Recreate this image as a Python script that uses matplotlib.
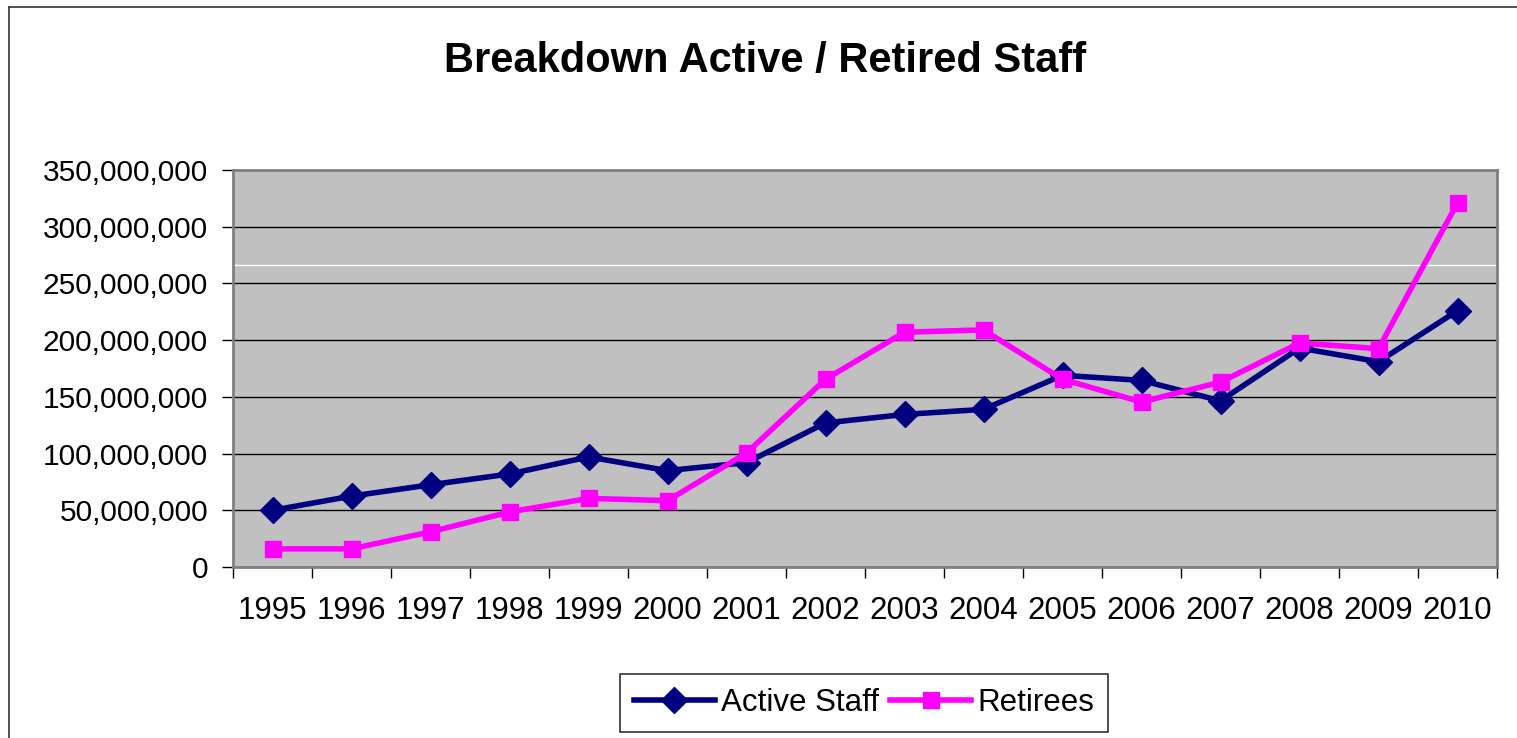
import numpy as np
import matplotlib
matplotlib.use('Agg')
import matplotlib.pyplot as plt
from matplotlib.lines import Line2D
from matplotlib.ticker import FuncFormatter

# Data
years = ['1995', '1996', '1997', '1998', '1999', '2000', '2001', '2002',
         '2003', '2004', '2005', '2006', '2007', '2008', '2009', '2010']
active_staff = [50.0, 62.5, 72.5, 82.0, 97.0, 85.0, 92.0, 127.0,
                134.5, 139.0, 169.0, 164.5, 146.5, 193.0, 181.0, 226.0]
retirees = [16.0, 16.0, 31.0, 48.5, 60.5, 58.5, 100.5, 165.5,
            207.0, 209.0, 165.5, 145.5, 163.0, 197.5, 192.5, 321.0]
active_staff = np.array(active_staff) * 1e6
retirees = np.array(retirees) * 1e6

plt.rcParams['font.family'] = ['Liberation Sans', 'DejaVu Sans']

fig = plt.figure(figsize=(15.17, 7.38), dpi=100)
ax = fig.add_axes([233/1517, 1 - 567/738, (1497-233)/1517, (567-170)/738])
ax.set_facecolor('#C0C0C0')

x = np.arange(len(years))
ax.plot(x, active_staff, color='#000080', lw=4, marker='D', markersize=13,
        label='Active Staff', zorder=3)
ax.plot(x, retirees, color='#FF00FF', lw=4, marker='s', markersize=12,
        label='Retirees', zorder=4)

# Y axis
ax.set_ylim(0, 350e6)
ax.set_yticks(np.arange(0, 350e6 + 1, 50e6))
ax.yaxis.set_major_formatter(FuncFormatter(lambda v, p: '{:,.0f}'.format(v)))
ax.yaxis.grid(True, color='black', lw=1.0)
ax.axhline(266e6, color='white', lw=1.0, zorder=1)
ax.set_axisbelow(True)

# X axis (category)
ax.set_xlim(-0.5, len(years) - 0.5)
ax.set_xticks(x)
ax.set_xticklabels(years)
ax.set_xticks(np.arange(-0.5, len(years)), minor=True)
ax.tick_params(axis='x', which='major', length=0, pad=21, labelsize=22.5)
ax.tick_params(axis='x', which='minor', length=8, width=1, color='black')
ax.tick_params(axis='y', which='major', length=8, width=1, pad=10,
               labelsize=21.5, color='black')

for s in ax.spines.values():
    s.set_color('#808080')
    s.set_linewidth(2)

fig.text(765/1517, 1 - 61/738, 'Breakdown Active / Retired Staff',
         ha='center', va='center', fontsize=30, fontweight='bold')

# Legend
leg = fig.legend(handles=[
    Line2D([0], [0], color='#000080', lw=4, marker='D', markersize=13),
    Line2D([0], [0], color='#FF00FF', lw=4, marker='s', markersize=12),
], labels=['Active Staff', 'Retirees'],
    loc='center', bbox_to_anchor=(864/1517, 1 - 703/738), ncol=2,
    fontsize=22.5, frameon=True, fancybox=False, edgecolor='black',
    handlelength=2.6, handletextpad=0.2, columnspacing=0.35,
    borderpad=0.45, borderaxespad=0)
leg.get_frame().set_linewidth(1.2)

# Chart frame
fig.add_artist(Line2D([9/1517, 9/1517], [0, 1 - 7/738], color='#333333', lw=1.2,
                      transform=fig.transFigure))
fig.add_artist(Line2D([9/1517, 1], [1 - 7/738, 1 - 7/738], color='#333333', lw=1.2,
                      transform=fig.transFigure))

fig.savefig('out.png', dpi=100)
